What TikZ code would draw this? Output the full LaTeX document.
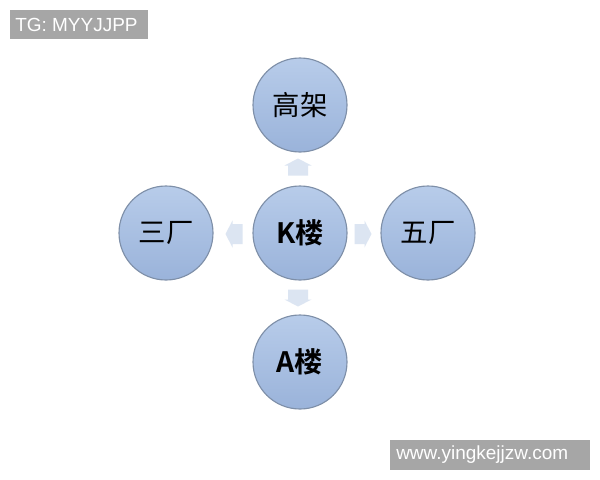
\documentclass[tikz,border=0pt]{standalone}
\usepackage{fontspec}
\setmainfont{Liberation Sans}
\newfontfamily\cjk{Noto Sans CJK SC}
\newfontfamily\cjkb{Noto Sans CJK SC Bold}
\definecolor{cfill}{HTML}{ABC3E6}
\definecolor{cfillb}{HTML}{9AB3DA}
\definecolor{cedge}{HTML}{7E8FA8}
\definecolor{afill}{HTML}{DCE5F2}
\definecolor{wm}{HTML}{A6A6A6}
\begin{document}
\begin{tikzpicture}[x=0.025cm,y=-0.025cm,
  bubble/.style={circle,minimum size=94*0.025cm,inner sep=0pt,draw=cedge,line width=0.8pt,
    top color=cfill!85!white,bottom color=cfillb,text=black,font=\cjk\fontsize{19.5}{19.5}\selectfont},
  boldtxt/.style={font=\cjkb\fontsize{20}{20}\selectfont},
  blockarrow/.style={fill=afill,draw=none},
  wmark/.style={fill=wm,inner sep=0pt,anchor=north west},
  wtext/.style={text=white,anchor=west,font=\fontsize{13.5}{13.5}\selectfont,inner sep=0pt}]
\useasboundingbox[fill=white] (0,0) rectangle (600,480);
\node[bubble,boldtxt] (k) at (300,233) {K楼};
\node[bubble] (t) at (300,105) {高架};
\node[bubble] (l) at (166,233) {三厂};
\node[bubble] (r) at (428,233) {五厂};
\node[bubble,boldtxt] (b) at (300,362) {A楼};
% block arrows: tip, head 27 wide, shaft 20 wide, total length 17
\foreach \name/\cx/\cy/\ang in {au/298/167/90, al/234/234/180, ar/363/234/0, ad/298/298/-90}{
  \coordinate (\name) at (\cx,\cy);
  \fill[blockarrow,shift={(\name)},rotate=\ang]
    (-8.5,-10) -- (1.5,-10) -- (1.5,-13.5) -- (8.5,0) -- (1.5,13.5) -- (1.5,10) -- (-8.5,10) -- cycle;
}
\node[wmark,minimum width=138*0.025cm,minimum height=29*0.025cm] (w1) at (10,10) {};
\node[wtext] (w1t) at (15,25) {TG: MYYJJPP};
\node[wmark,minimum width=200*0.025cm,minimum height=30*0.025cm] (w2) at (390,440) {};
\node[wtext] (w2t) at (396,455) {www.yingkejjzw.com};
\end{tikzpicture}
\end{document}
